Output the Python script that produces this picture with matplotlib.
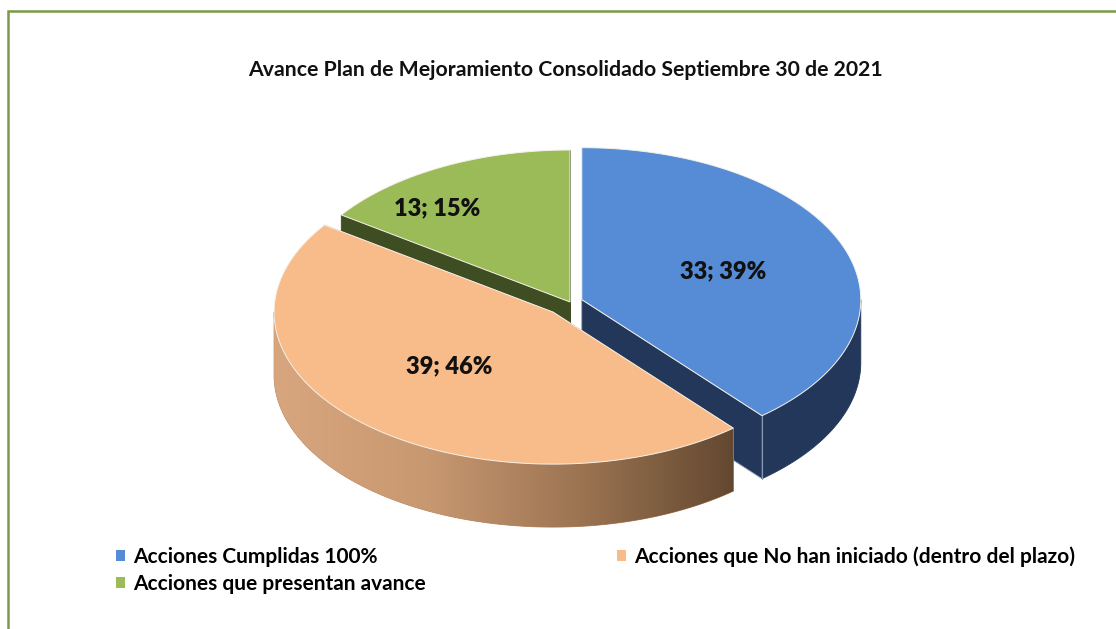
import numpy as np
import matplotlib.pyplot as plt
from matplotlib.patches import Polygon, Rectangle, Patch
from matplotlib.colors import LinearSegmentedColormap

# datos
titulo = "Avance Plan de Mejoramiento Consolidado Septiembre 30 de 2021"
categorias = ["Acciones Cumplidas 100%",
              "Acciones que No han iniciado (dentro del plazo)",
              "Acciones que presentan avance"]
valores = [33, 39, 13]

# estilo
color_top = ["#558CD5", "#F7BC8A", "#9BBB59"]
color_lado = ["#22375A", "#B58862", "#3F4E22"]
explode = [0.045, 0.09, 0.0]
label_r = [0.54, 0.515, 0.78]
label_giro = [0, 4, -10]

W, H = 1116, 629
CX, CY = 570, 302      # centro de la torta (pixeles)
RX, RY = 279, 152      # radios de la elipse
PROF = 63              # espesor 3D

FUENTE = ["Lato", "DejaVu Sans"]

fig = plt.figure(figsize=(W / 100, H / 100), dpi=100)
ax = fig.add_axes([0, 0, 1, 1])


def punto(cx, cy, ang, r=1.0):
    a = np.radians(ang)
    return cx + r * RX * np.sin(a), cy - r * RY * np.cos(a)


def arco(cx, cy, a1, a2, n=120):
    t = np.radians(np.linspace(a1, a2, n))
    return np.column_stack([cx + RX * np.sin(t), cy - RY * np.cos(t)])


total = sum(valores)
angulos = np.concatenate([[0], np.cumsum(valores) / total * 360])
grad_cmap = LinearSegmentedColormap.from_list(
    "lado", ["#D8A67E", "#C89871", "#9C7452", "#634830"])

orden = [2, 0, 1]  # de atras hacia adelante
z = 1
for i in orden:
    a1, a2 = angulos[i], angulos[i + 1]
    mid = (a1 + a2) / 2
    cx, cy = punto(CX, CY, mid, explode[i])
    # paredes radiales
    for ae in (a1, a2):
        px, py = punto(cx, cy, ae)
        quad = [(cx, cy), (px, py), (px, py + PROF), (cx, cy + PROF)]
        ax.add_patch(Polygon(quad, closed=True, facecolor=color_lado[i],
                             edgecolor="#8a9ab5" if i == 0 else color_lado[i],
                             lw=0.6, zorder=z))
    z += 1
    # pared exterior (solo la parte frontal)
    f1, f2 = max(a1, 90), min(a2, 270)
    if f2 > f1:
        sup = arco(cx, cy, f1, f2)
        inf = sup[::-1] + [0, PROF]
        pared = Polygon(np.vstack([sup, inf]), closed=True,
                        facecolor=color_lado[i], edgecolor=color_lado[i],
                        lw=0.6, zorder=z)
        ax.add_patch(pared)
        if i == 1:
            x0, x1 = sup[:, 0].min(), sup[:, 0].max()
            y0, y1 = sup[:, 1].min(), sup[:, 1].max() + PROF
            grad = np.linspace(0, 1, 256).reshape(1, -1)
            im = ax.imshow(grad, extent=(x0, x1, y1, y0), cmap=grad_cmap,
                           aspect="auto", zorder=z + 0.5)
            im.set_clip_path(pared)
        if i == 0:
            px, py = punto(cx, cy, a2)
            ax.plot([px, px], [py, py + PROF], color="#8a9ab5", lw=0.8,
                    zorder=z + 0.6)
    z += 1
    # cara superior
    cara = np.vstack([[cx, cy], arco(cx, cy, a1, a2)])
    ax.add_patch(Polygon(cara, closed=True, facecolor=color_top[i],
                         edgecolor="#f4f1ea", lw=0.7, zorder=z))
    z += 1

# etiquetas de datos
for i, v in enumerate(valores):
    a1, a2 = angulos[i], angulos[i + 1]
    mid = (a1 + a2) / 2
    cx, cy = punto(CX, CY, mid, explode[i])
    lx, ly = punto(cx, cy, mid + label_giro[i], label_r[i])
    ax.text(lx, ly, f"{v}; {round(100 * v / total)}%", ha="center",
            va="center", fontsize=17, fontweight="heavy", family=FUENTE,
            color="#111111", zorder=50)

ax.set_xlim(0, W)
ax.set_ylim(H, 0)
ax.axis("off")

# marco del grafico
fig.patches.append(Rectangle((7.5 / W, -0.1), 1.2, 1.1 - 11.5 / H,
                             transform=fig.transFigure, fill=False,
                             edgecolor="#7A9A45", lw=1.8))

fig.text(566 / W, 1 - 70 / H, titulo, ha="center", va="center",
         fontsize=15.3, fontweight="bold", family=FUENTE, color="#111111")

# leyenda (orden por filas como en Excel)
handles = [Patch(facecolor=c, edgecolor="none") for c in color_top]
idx = [0, 2, 1]
leg = fig.legend([handles[k] for k in idx], [categorias[k] for k in idx],
                 ncol=2, loc="upper left",
                 bbox_to_anchor=(116 / W, 1 - 546 / H), frameon=False,
                 borderpad=0, borderaxespad=0,
                 handlelength=0.45, handleheight=0.45, handletextpad=0.35,
                 columnspacing=9.2, labelspacing=0.35,
                 prop={"family": FUENTE, "weight": "bold", "size": 15})

fig.savefig("out.png", dpi=100)
